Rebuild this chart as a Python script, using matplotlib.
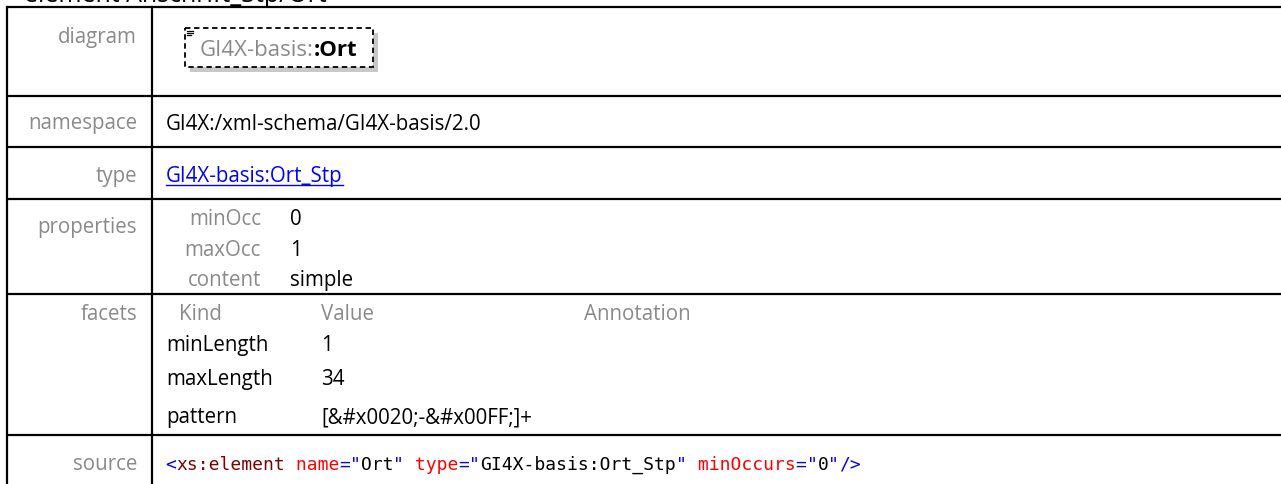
"""
Nachbau einer XML-Schema-Dokumentationstabelle (Element Ort) mit matplotlib.
"""

import matplotlib
matplotlib.use("Agg")
import matplotlib.pyplot as plt
from matplotlib.patches import Rectangle
from matplotlib.offsetbox import TextArea, HPacker, AnnotationBbox

# Inhalte der Tabelle
title = "element Anschrift_Stp/Ort"
row_labels = ["diagram", "namespace", "type", "properties", "facets", "source"]
diagram_prefix = "GI4X-basis:"
diagram_name = ":Ort"
namespace = "GI4X:/xml-schema/GI4X-basis/2.0"
type_name = "GI4X-basis:Ort_Stp"
prop_keys = ["minOcc", "maxOcc", "content"]
prop_vals = ["0", "1", "simple"]
facet_header = ["Kind", "Value", "Annotation"]
facet_kinds = ["minLength", "maxLength", "pattern"]
facet_vals = ["1", "34", "[&#x0020;-&#x00FF;]+"]
source_tokens = [
    ("<", "blue"), ("xs:element", "tag"), (" name", "attr"), ("=", "blue"),
    ('"', "blue"), ("Ort", "text"), ('"', "blue"), (" type", "attr"),
    ("=", "blue"), ('"', "blue"), ("GI4X-basis:Ort_Stp", "text"), ('"', "blue"),
    (" minOccurs", "attr"), ("=", "blue"), ('"', "blue"), ("0", "text"),
    ('"', "blue"), ("/>", "blue"),
]

# Layout (Pixel)
W, H = 1281, 485
row_lines = [8, 97, 148, 200, 295, 436]
label_y = [37, 124, 177, 228, 315, 465]
x_left, x_sep, x_label, x_val = 7, 152, 137, 166

GRAY = "#8a8a8a"
code_colors = {"blue": "#0000ff", "tag": "#800000", "attr": "#ff0000", "text": "#000000"}
plt.rcParams["font.family"] = ["Open Sans", "DejaVu Sans"]
FS = 14.8

fig = plt.figure(figsize=(W / 100, H / 100), dpi=100)
ax = fig.add_axes([0, 0, 1, 1])
ax.set_xlim(0, W)
ax.set_ylim(H, 0)
ax.axis("off")

# Rahmenlinien
for y in row_lines:
    ax.plot([x_left, W], [y, y], color="black", lw=1.6, solid_capstyle="butt")
ax.plot([x_left, x_left], [row_lines[0], H], color="black", lw=1.6)
ax.plot([x_sep, x_sep], [row_lines[0], H], color="black", lw=1.6)

# Titel (oben abgeschnitten wie im Original)
ax.text(24, 2, title, fontsize=18, va="baseline", ha="left", color="black")

# Zeilenbeschriftungen
for lab, y in zip(row_labels, label_y):
    ax.text(x_label, y, lab, fontsize=FS, color=GRAY, ha="right", va="center")

# Diagramm-Kasten mit Schatten
ax.add_patch(Rectangle((190, 34), 188, 39, facecolor="#c8c8c8", edgecolor="none"))
ax.add_patch(Rectangle((185, 29), 188, 39, facecolor="white", edgecolor="black",
                       lw=1.3, linestyle=(0, (3, 2))))
# kleines Symbol oben links
for i, y in enumerate([31.5, 33.5, 35.5]):
    ax.plot([187, 193 if i < 2 else 191], [y, y], color="black", lw=0.9)
diag = HPacker(children=[
    TextArea(diagram_prefix, textprops=dict(fontsize=16, color=GRAY)),
    TextArea(diagram_name, textprops=dict(fontsize=16, color="black", weight="bold")),
], pad=0, sep=0, align="baseline")
ax.add_artist(AnnotationBbox(diag, (200, 50), box_alignment=(0, 0.5),
                             frameon=False, pad=0))

# namespace und type
ax.text(x_val, label_y[1], namespace, fontsize=FS, color="black", va="center")
t_type = ax.text(x_val, label_y[2], type_name, fontsize=FS, color="#0000ff", va="center")

# properties
for k, v, y in zip(prop_keys, prop_vals, [220, 251, 281]):
    ax.text(261, y, k, fontsize=FS, color=GRAY, ha="right", va="center")
    ax.text(290, y, v, fontsize=FS, color="black", va="center")

# facets
for h, x in zip(facet_header, [179, 321, 584]):
    ax.text(x, label_y[4], h, fontsize=FS, color=GRAY, va="center")
for k, v, y in zip(facet_kinds, facet_vals, [346, 380, 418]):
    ax.text(166, y, k, fontsize=FS, color="black", va="center")
    ax.text(321, y, v, fontsize=FS, color="black", va="center")

# source
code = HPacker(children=[
    TextArea(s, textprops=dict(fontsize=13, color=code_colors[c], family="DejaVu Sans Mono"))
    for s, c in source_tokens
], pad=0, sep=0, align="baseline")
ax.add_artist(AnnotationBbox(code, (165, label_y[5]), box_alignment=(0, 0.5),
                             frameon=False, pad=0))

# Unterstreichung des Links
fig.canvas.draw()
bb = t_type.get_window_extent().transformed(ax.transData.inverted())
ax.plot([bb.x0, bb.x1], [bb.y0 - 2, bb.y0 - 2], color="#0000ff", lw=1)

fig.savefig("out.png", dpi=100)
